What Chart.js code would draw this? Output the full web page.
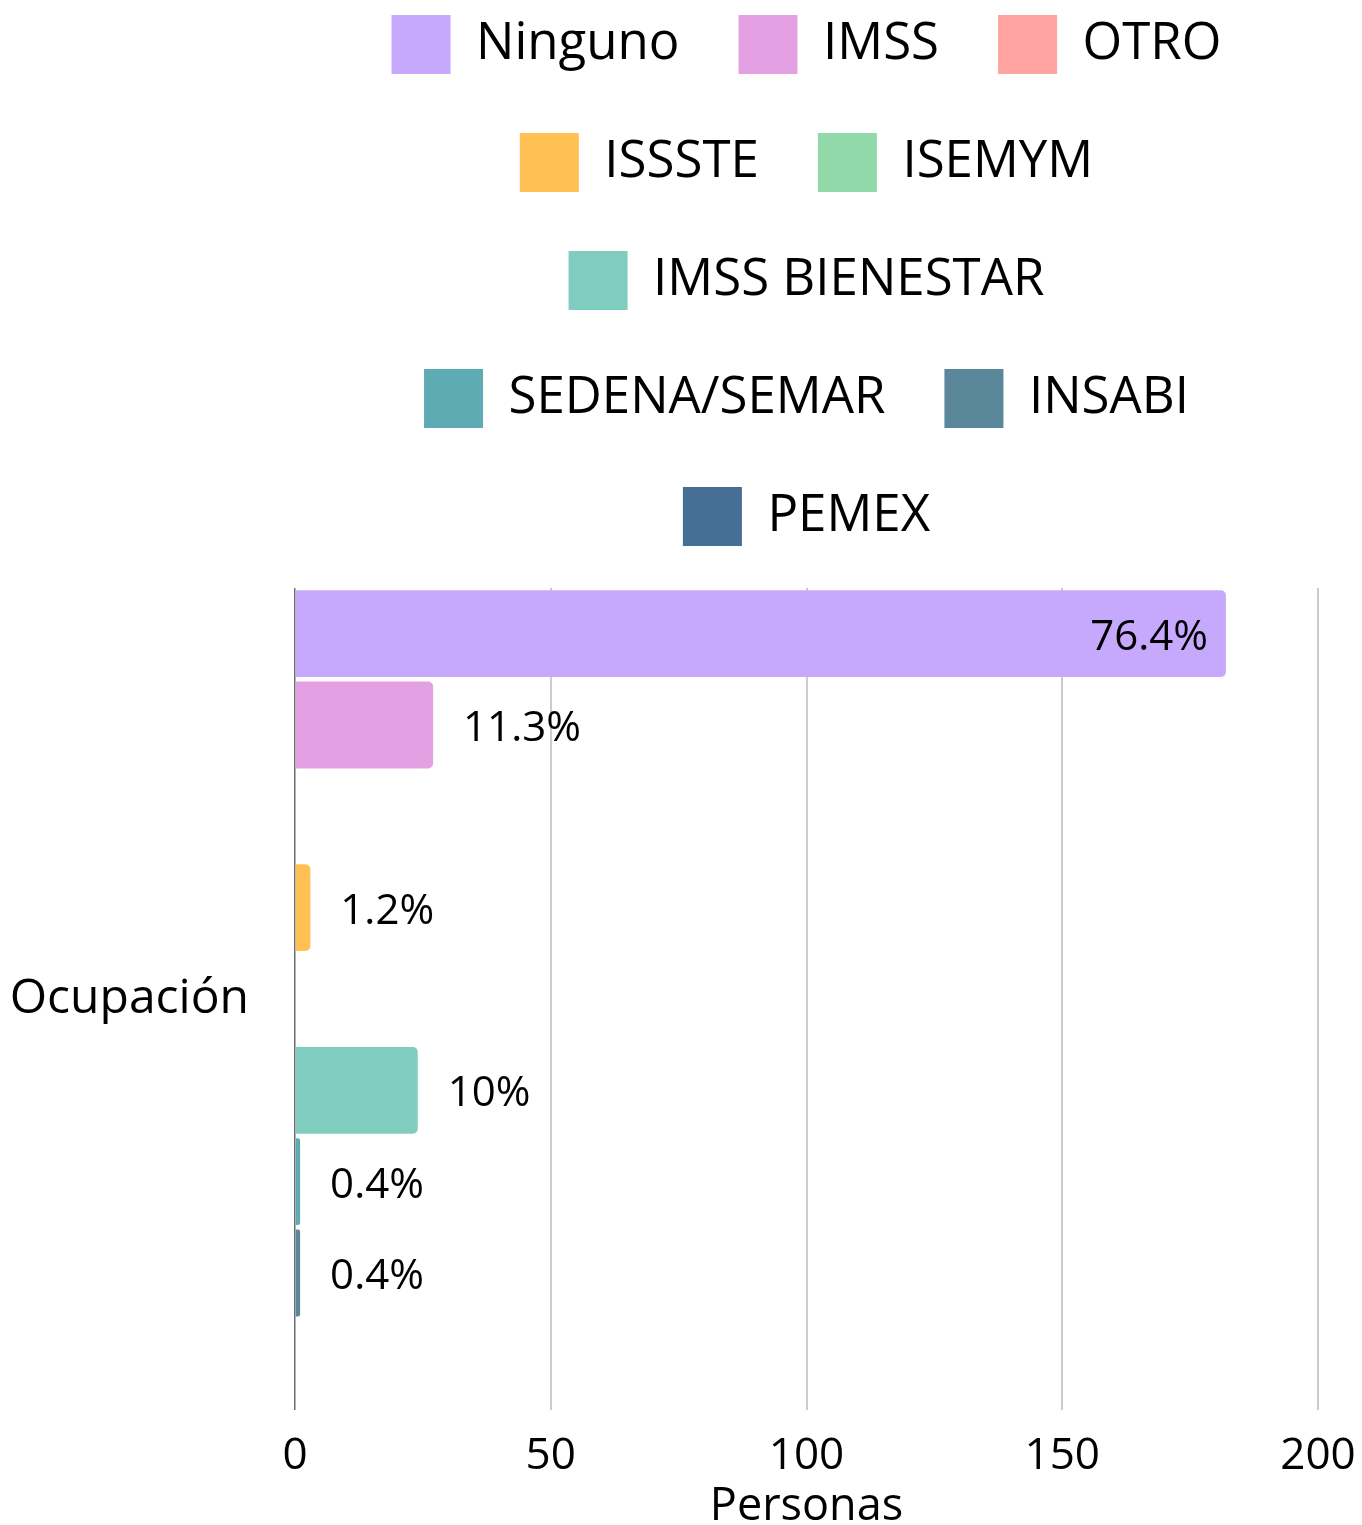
<!DOCTYPE html>
<html><head><meta charset="utf-8">
<script src="https://cdn.jsdelivr.net/npm/chart.js@4"></script>
<style>html,body{margin:0;padding:0;background:#fff;}canvas{display:block;}</style>
</head><body>
<canvas id="c" width="1362" height="1525"></canvas>
<script>
const categories = ['Ocupación'];
const seriesNames = ['Ninguno','IMSS','OTRO','ISSSTE','ISEMYM','IMSS BIENESTAR','SEDENA/SEMAR','INSABI','PEMEX'];
const seriesValues = [182, 27, 0, 3, 0, 24, 1, 1, 0];
const percentLabels = ['76.4%','11.3%','','1.2%','','10%','0.4%','0.4%',''];
const seriesColors = ['#c6a9fd','#e3a0e3','#ffa4a0','#ffc153','#92d9a9','#80cdbf','#5fabb3','#5a8799','#466f96'];
const xTicks = [0, 50, 100, 150, 200];
const xTitle = 'Personas';

const FONT = "'Open Sans', 'DejaVu Sans', sans-serif";
Chart.defaults.font.family = FONT;
Chart.defaults.color = '#000';

const valueLabelPlugin = {
  id: 'valueLabels',
  afterDatasetsDraw(chart) {
    const ctx = chart.ctx;
    ctx.save();
    ctx.font = "42px " + FONT;
    ctx.fillStyle = '#000';
    ctx.textBaseline = 'middle';
    chart.data.datasets.forEach((ds, i) => {
      const meta = chart.getDatasetMeta(i);
      const txt = percentLabels[i];
      if (!txt || meta.hidden) return;
      meta.data.forEach(bar => {
        const p = bar.getProps(['x', 'y', 'base'], true);
        const w = ctx.measureText(txt).width;
        if (p.x - p.base > w + 40) {
          ctx.textAlign = 'right';
          ctx.fillText(txt, p.x - 18, p.y + 4);
        } else {
          ctx.textAlign = 'left';
          ctx.fillText(txt, p.x + 30, p.y + 4);
        }
      });
    });
    ctx.restore();
  }
};

const datasets = seriesNames.map((name, i) => ({
  label: name,
  data: [seriesValues[i]],
  backgroundColor: seriesColors[i],
  borderWidth: 0,
  borderRadius: 5,
  barPercentage: 0.95,
  categoryPercentage: 1
}));

new Chart(document.getElementById('c'), {
  type: 'bar',
  data: { labels: categories, datasets },
  plugins: [valueLabelPlugin],
  options: {
    responsive: false,
    animation: false,
    indexAxis: 'y',
    layout: { padding: { top: -44, right: 44, bottom: 0, left: 0 } },
    plugins: {
      legend: {
        position: 'top',
        fullSize: false,
        labels: { boxWidth: 59, boxHeight: 59, padding: 59, color: '#000', font: { size: 51 } }
      },
      title: { display: true, text: '', weight: 500, padding: 0, font: { size: 32, lineHeight: 1 } },
      tooltip: { enabled: false }
    },
    scales: {
      y: {
        type: 'category',
        grid: { display: false },
        border: { display: false },
        ticks: { color: '#000', padding: 38, font: { size: 48 } },
        afterFit: s => { s.width = 295; }
      },
      x: {
        type: 'linear',
        position: 'bottom',
        min: 0,
        max: 200,
        afterBuildTicks: s => { s.ticks = xTicks.map(v => ({ value: v })); },
        afterFit: s => { s.height = 115; },
        grid: {
          drawTicks: false,
          color: c => (c.tick && c.tick.value === 0) ? '#6e6e6e' : '#cccccc',
          lineWidth: c => (c.tick && c.tick.value === 0) ? 1.5 : 2
        },
        border: { display: false },
        ticks: { color: '#000', padding: 5, font: { size: 44, lineHeight: 82 / 44 } },
        title: { display: true, text: xTitle, color: '#000', padding: { top: 0, bottom: 0 }, font: { size: 45, lineHeight: 36 / 45 } }
      }
    }
  }
});
</script>
</body></html>
